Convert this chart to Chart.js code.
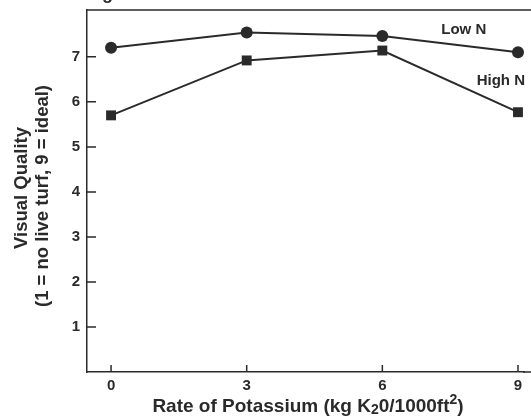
<!DOCTYPE html>
<html>
<head>
<meta charset="utf-8">
<script src="https://cdn.jsdelivr.net/npm/chart.js@4"></script>
<style>
html,body{margin:0;padding:0;background:#fff;}
#wrap{width:531px;height:419px;position:relative;}
</style>
</head>
<body>
<div id="wrap"><canvas id="c" width="531" height="419"></canvas></div>
<script>
const potassium = [0, 3, 6, 9];
const lowN = [7.2, 7.54, 7.46, 7.1];
const highN = [5.7, 6.92, 7.14, 5.77];
const xTicks = [0, 3, 6, 9];
const yTicks = [1, 2, 3, 4, 5, 6, 7];
const seriesLabels = ['Low N', 'High N'];
const xTitle = 'Rate of Potassium (kg K';
const yTitle1 = 'Visual Quality';
const yTitle2 = '(1 = no live turf, 9 = ideal)';

const INK = '#2a2a2a';
const FONT = '"Liberation Sans", Arial, Helvetica, sans-serif';

const deco = {
  id: 'deco',
  afterDraw(chart) {
    const ctx = chart.ctx;
    const a = chart.chartArea;
    const xs = chart.scales.x, ys = chart.scales.y;
    ctx.save();
    ctx.strokeStyle = INK;
    ctx.lineWidth = 1.5;
    // frame lines running to the right edge of the picture
    ctx.beginPath();
    ctx.moveTo(a.left, a.top);
    ctx.lineTo(chart.width, a.top);
    ctx.moveTo(a.right - 1, a.bottom);
    ctx.lineTo(chart.width, a.bottom);
    ctx.stroke();
    // inward ticks
    ctx.beginPath();
    xTicks.forEach(v => {
      const px = xs.getPixelForValue(v);
      ctx.moveTo(px, a.bottom);
      ctx.lineTo(px, a.bottom - 7);
    });
    yTicks.forEach(v => {
      const py = ys.getPixelForValue(v);
      ctx.moveTo(a.left, py);
      ctx.lineTo(a.left + 9, py);
    });
    ctx.stroke();

    ctx.fillStyle = INK;
    // Figure caption (cropped at top)
    ctx.font = 'bold 18px ' + FONT;
    ctx.textAlign = 'left';
    ctx.textBaseline = 'alphabetic';
    ctx.fillText('Figure 2', 86, -1);

    // series labels
    ctx.font = 'bold 15px ' + FONT;
    ctx.textAlign = 'center';
    ctx.textBaseline = 'middle';
    ctx.fillText(seriesLabels[0], xs.getPixelForValue(7.8), ys.getPixelForValue(7.6));
    ctx.fillText(seriesLabels[1], xs.getPixelForValue(8.62), ys.getPixelForValue(6.46));

    // x title with subscript and superscript
    ctx.textBaseline = 'alphabetic';
    ctx.textAlign = 'left';
    const partA = xTitle;
    const sub = '2';
    const partB = '0/1000ft';
    const sup = '2';
    const partC = ')';
    const big = 'bold 19px ' + FONT, small = 'bold 14px ' + FONT;
    ctx.font = big; const wA = ctx.measureText(partA).width;
    ctx.font = small; const wS = ctx.measureText(sub).width;
    ctx.font = big; const wB = ctx.measureText(partB).width;
    ctx.font = small; const wP = ctx.measureText(sup).width;
    ctx.font = big; const wC = ctx.measureText(partC).width;
    const total = wA + wS + wB + wP + wC;
    let x = 308 - total / 2;
    const by = 412;
    ctx.font = big; ctx.fillText(partA, x, by); x += wA;
    ctx.font = small; ctx.fillText(sub, x, by + 2); x += wS;
    ctx.font = big; ctx.fillText(partB, x, by); x += wB;
    ctx.font = small; ctx.fillText(sup, x, by - 8); x += wP;
    ctx.font = big; ctx.fillText(partC, x, by);

    // y titles
    ctx.textAlign = 'center';
    ctx.textBaseline = 'middle';
    ctx.font = 'bold 18.5px ' + FONT;
    ctx.save();
    ctx.translate(22, 188);
    ctx.rotate(-Math.PI / 2);
    ctx.fillText(yTitle1, 0, 0);
    ctx.restore();
    ctx.save();
    ctx.translate(43, 196);
    ctx.rotate(-Math.PI / 2);
    ctx.fillText(yTitle2, 0, 0);
    ctx.restore();
    ctx.restore();
  }
};

new Chart(document.getElementById('c'), {
  type: 'line',
  data: {
    datasets: [
      {
        label: seriesLabels[0],
        data: potassium.map((k, i) => ({x: k, y: lowN[i]})),
        borderColor: INK, backgroundColor: INK,
        borderWidth: 2, pointStyle: 'circle', pointRadius: 6,
        pointBackgroundColor: INK, pointBorderWidth: 0, tension: 0
      },
      {
        label: seriesLabels[1],
        data: potassium.map((k, i) => ({x: k, y: highN[i]})),
        borderColor: INK, backgroundColor: INK,
        borderWidth: 2, pointStyle: 'rect', pointRadius: 7,
        pointBackgroundColor: INK, pointBorderWidth: 0, tension: 0
      }
    ]
  },
  options: {
    responsive: false,
    animation: false,
    devicePixelRatio: 1,
    layout: {padding: {top: 10, right: 0, left: 0, bottom: 0}},
    plugins: {legend: {display: false}, tooltip: {enabled: false}},
    scales: {
      x: {
        type: 'linear', min: -0.532, max: 9.133,
        afterBuildTicks: s => { s.ticks = xTicks.map(v => ({value: v})); },
        afterFit: s => { s.height = 47; },
        grid: {display: true, drawOnChartArea: false, drawTicks: false},
        border: {display: true, color: INK, width: 1.5},
        ticks: {color: INK, padding: 5, font: {family: FONT, size: 15, weight: 'bold'}}
      },
      y: {
        type: 'linear', min: 0, max: 8.04,
        afterBuildTicks: s => { s.ticks = yTicks.map(v => ({value: v})); },
        afterFit: s => { s.width = 87; s.paddingTop = 0; s.paddingBottom = 0; },
        grid: {display: true, drawOnChartArea: false, drawTicks: false},
        border: {display: true, color: INK, width: 1.5},
        ticks: {color: INK, padding: 7, font: {family: FONT, size: 15, weight: 'bold'}}
      }
    }
  },
  plugins: [deco]
});
</script>
</body>
</html>
